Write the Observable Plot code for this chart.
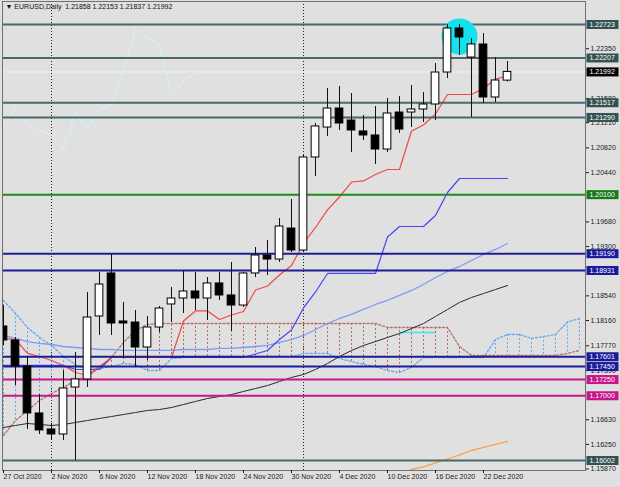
<!DOCTYPE html>
<html><head><meta charset="utf-8">
<script src="https://cdn.jsdelivr.net/npm/d3@7"></script>
<script src="https://cdn.jsdelivr.net/npm/@observablehq/plot@0.6"></script>
<style>html,body{margin:0;padding:0;background:#e0e0e0;}#chart{width:620px;height:487px;}</style>
</head><body><div id="chart"></div>
<script>
// ---------- data ----------
const symbol = "EURUSD,Daily";
const dates = ["2020-10-27","2020-10-28","2020-10-29","2020-10-30","2020-11-02","2020-11-03","2020-11-04","2020-11-05","2020-11-06","2020-11-09","2020-11-10","2020-11-11","2020-11-12","2020-11-13","2020-11-16","2020-11-17","2020-11-18","2020-11-19","2020-11-20","2020-11-23","2020-11-24","2020-11-25","2020-11-26","2020-11-27","2020-11-30","2020-12-01","2020-12-02","2020-12-03","2020-12-04","2020-12-07","2020-12-08","2020-12-09","2020-12-10","2020-12-11","2020-12-14","2020-12-15","2020-12-16","2020-12-17","2020-12-18","2020-12-21","2020-12-22","2020-12-23","2020-12-24"];
const open  = [1.18068,1.17852,1.17451,1.16727,1.16480,1.16403,1.17127,1.17251,1.18222,1.18885,1.18145,1.18129,1.17744,1.18052,1.18407,1.18499,1.18607,1.18499,1.18731,1.18546,1.18391,1.18885,1.19162,1.19100,1.19578,1.19239,1.20673,1.21135,1.21428,1.21243,1.21074,1.21012,1.20796,1.21366,1.21366,1.21413,1.21490,1.21983,1.22661,1.22214,1.22415,1.21598,1.21858];
const high  = [1.18391,1.17898,1.17590,1.17019,1.16572,1.17389,1.17667,1.18592,1.18900,1.19178,1.18438,1.18314,1.18222,1.18376,1.18669,1.18915,1.18900,1.18823,1.18900,1.19054,1.18900,1.19285,1.19393,1.19732,1.20025,1.20704,1.21197,1.21736,1.21767,1.21659,1.21320,1.21459,1.21582,1.21613,1.21783,1.21675,1.22122,1.22723,1.22723,1.22507,1.22584,1.22214,1.22153];
const low   = [1.17775,1.17158,1.16480,1.16403,1.16310,1.16310,1.16002,1.17127,1.17929,1.17929,1.17574,1.17436,1.17543,1.17975,1.18129,1.18268,1.18314,1.18160,1.18468,1.17991,1.18361,1.18823,1.18854,1.19054,1.19208,1.19208,1.20380,1.20997,1.21089,1.20750,1.20935,1.20565,1.20750,1.21043,1.21135,1.21212,1.21243,1.21891,1.22245,1.21290,1.21505,1.21521,1.21837];
const close = [1.17852,1.17451,1.16727,1.16465,1.16403,1.17112,1.17251,1.18206,1.18715,1.18114,1.18114,1.17744,1.18052,1.18345,1.18499,1.18607,1.18499,1.18731,1.18546,1.18391,1.18885,1.19162,1.19100,1.19609,1.19239,1.20673,1.21151,1.21428,1.21197,1.21089,1.21012,1.20796,1.21351,1.21104,1.21413,1.21490,1.21983,1.22661,1.22523,1.22415,1.21598,1.21860,1.21992];

const tenkan = [1.17883,1.17867,1.17652,1.17605,1.17544,1.17467,1.17359,1.17312,1.17451,1.17590,1.17590,1.17590,1.17590,1.17590,1.17590,1.18153,1.18307,1.18307,1.18176,1.18245,1.18299,1.18630,1.18692,1.18862,1.19008,1.19347,1.19594,1.19864,1.20064,1.20295,1.20311,1.20411,1.20488,1.20488,1.21081,1.21174,1.21343,1.21644,1.21644,1.21644,1.21736,1.21883,1.21929];
const kijun = [1.17467,1.17467,1.17467,1.17467,1.17467,1.17467,1.17405,1.17405,1.17405,1.17590,1.17590,1.17590,1.17590,1.17590,1.17590,1.17590,1.17590,1.17590,1.17590,1.17590,1.17590,1.17644,1.17698,1.17867,1.18014,1.18353,1.18600,1.18885,1.18885,1.18885,1.18885,1.18885,1.19447,1.19609,1.19609,1.19609,1.19779,1.20133,1.20349,1.20349,1.20349,1.20349,1.20349];
// Senkou spans run 6 bars past the last candle
const spanA = [1.18469,1.18268,1.18052,1.17898,1.17775,1.17605,1.17482,1.17405,1.17420,1.17451,1.17497,1.17482,1.17389,1.17389,1.17574,1.17590,1.17605,1.17605,1.17605,1.17605,1.17605,1.17605,1.17605,1.17605,1.17605,1.17652,1.17652,1.17652,1.17574,1.17528,1.17482,1.17451,1.17389,1.17359,1.17436,1.17590,1.17590,1.17590,1.17590,1.17590,1.17590,1.17867,1.17944,1.17944,1.17883,1.17913,1.17944,1.18137,1.18191];
const spanB = [1.16387,1.16619,1.16773,1.16927,1.17035,1.17127,1.17235,1.17312,1.17420,1.17590,1.17821,1.18006,1.18099,1.18114,1.18114,1.18114,1.18114,1.18114,1.18114,1.18114,1.18114,1.18114,1.18114,1.18114,1.18114,1.18114,1.18114,1.18114,1.18114,1.18114,1.18114,1.18114,1.18052,1.18052,1.18052,1.18052,1.18052,1.18052,1.17759,1.17621,1.17621,1.17621,1.17621,1.17621,1.17621,1.17621,1.17621,1.17652,1.17698];

const maBlue  = [1.17929,1.17883,1.17836,1.17806,1.17790,1.17759,1.17744,1.17729,1.17713,1.17713,1.17698,1.17698,1.17698,1.17698,1.17698,1.17713,1.17713,1.17713,1.17729,1.17729,1.17744,1.17759,1.17775,1.17821,1.17867,1.17929,1.18021,1.18114,1.18191,1.18253,1.18330,1.18407,1.18469,1.18546,1.18623,1.18715,1.18823,1.18916,1.18993,1.19085,1.19178,1.19255,1.19347];
const maBlack = [1.16511,1.16542,1.16572,1.16557,1.16542,1.16557,1.16588,1.16619,1.16650,1.16680,1.16711,1.16742,1.16773,1.16788,1.16819,1.16865,1.16912,1.16958,1.16989,1.17019,1.17066,1.17112,1.17158,1.17220,1.17282,1.17328,1.17405,1.17497,1.17605,1.17698,1.17775,1.17836,1.17898,1.17960,1.18037,1.18114,1.18222,1.18330,1.18438,1.18515,1.18576,1.18638,1.18700];
const maOrange = [null,null,null,null,null,null,null,null,null,null,null,null,null,null,null,null,null,null,null,null,null,null,null,null,null,null,null,null,null,null,null,null,null,1.15786,1.15863,1.15902,1.15964,1.16025,1.16087,1.16156,1.16203,1.16249,1.16295];

const levelPrices = [1.22723,1.22207,1.21517,1.21290,1.20100,1.19190,1.18931,1.17601,1.17450,1.17250,1.17000,1.16002];
const monthStarts = ["2020-11-02","2020-12-01"];
const cyanSegment = {from: "2020-12-11", to: "2020-12-16", price: 1.17975};
const highlight = {date: "2020-12-18", price: 1.22538};

const yTicks = [1.22350,1.21580,1.21210,1.20820,1.20440,1.19680,1.19300,1.18540,1.18160,1.17770,1.17390,1.16630,1.16250,1.15870];
const xTickDates = ["2020-10-27","2020-11-02","2020-11-06","2020-11-12","2020-11-18","2020-11-24","2020-11-30","2020-12-04","2020-12-10","2020-12-16","2020-12-22"];
const xTickLabels = ["27 Oct 2020","2 Nov 2020","6 Nov 2020","12 Nov 2020","18 Nov 2020","24 Nov 2020","30 Nov 2020","4 Dec 2020","10 Dec 2020","16 Dec 2020","22 Dec 2020"];

// ---------- styles ----------
const slate = "#47696a", navy = "#1d1d98", magenta = "#c8168a", green = "#1f8a1f";
const levelColors = [slate, slate, slate, slate, green, navy, navy, navy, navy, magenta, magenta, slate];
const boxColors   = ["#335353","#335353","#335353","#335353","#177a17","#1a1a9a","#1a1a9a","#1a1a9a","#1a1a9a","#c8168a","#c8168a","#335353"];

// ---------- derived tables ----------
const idx = d => dates.indexOf(d);
const bars = dates.map((d, i) => ({i, o: open[i], h: high[i], l: low[i], c: close[i]}));
const cloud = spanA.map((a, i) => ({i, a, b: spanB[i]}));
const series = (arr) => arr.map((v, i) => ({i, v}));
const last = bars.length - 1;
const chikou = close.slice(26).map((v, i) => ({i, v}));
const labelData = levelPrices.map((p, k) => ({p, fill: boxColors[k]})).concat([{p: close[last], fill: "#000000"}]);
const tickIdx = xTickDates.map(idx);
const tickText = new Map(tickIdx.map((t, k) => [t, xTickLabels[k]]));
const title = "\u25BC " + symbol + "  " + [open[last], high[last], low[last], close[last]].map(v => v.toFixed(5)).join(" ");

function withBoxes(index, scales, values, dimensions, context, next) {
  const g = next(index, scales, values, dimensions, context);
  const ns = "http://www.w3.org/2000/svg";
  const wrap = document.createElementNS(ns, "g");
  const x0 = dimensions.width - dimensions.marginRight;
  for (const i of index) {
    const r = document.createElementNS(ns, "rect");
    r.setAttribute("x", x0 + 1.5);
    r.setAttribute("y", values.y[i] - 4);
    r.setAttribute("width", 32);
    r.setAttribute("height", 9);
    r.setAttribute("fill", labelData[i].fill);
    wrap.appendChild(r);
  }
  wrap.appendChild(g);
  return wrap;
}

const chart = Plot.plot({
  width: 620, height: 487,
  marginLeft: 2, marginRight: 35, marginTop: 1, marginBottom: 17,
  x: {type: "linear", domain: [-1/12, 48.5], axis: null},
  y: {domain: [1.1584771, 1.2307756], axis: null},
  style: {background: "#e0e0e0", fontFamily: "'Liberation Sans', Arial, sans-serif", fontSize: "7px", color: "#1a1a1a"},
  marks: [
    Plot.ruleY([close[last]], {stroke: "#efefef", strokeWidth: 1}),
    Plot.ruleX(monthStarts.map(idx), {stroke: "#222", strokeDasharray: "1,2", strokeWidth: 1}),
    // Ichimoku cloud hatching
    Plot.ruleX(cloud, {x: "i", y1: "a", y2: "b", stroke: d => d.a > d.b ? "#63aaee" : "#b56e66", strokeDasharray: "2,2", strokeWidth: 1, clip: true}),
    Plot.line(series(spanA), {x: "i", y: "v", stroke: "#63aaee", strokeDasharray: "2,2", strokeWidth: 1.3, clip: true}),
    Plot.line(series(spanB), {x: "i", y: "v", stroke: "#b56e66", strokeDasharray: "2,2", strokeWidth: 1.3, clip: true}),
    Plot.ruleY([cyanSegment], {y: "price", x1: d => idx(d.from), x2: d => idx(d.to), stroke: "#3ee6ec", strokeWidth: 1.3}),
    // moving averages
    Plot.line(series(maBlack), {x: "i", y: "v", stroke: "#2a2a2a", strokeWidth: 1, clip: true}),
    Plot.line(series(maBlue), {x: "i", y: "v", stroke: "#7d9cf2", strokeWidth: 1.3, clip: true}),
    Plot.line(series(maOrange), {x: "i", y: "v", stroke: "#f5a24c", strokeWidth: 1.3, clip: true}),
    // kijun / tenkan / chikou
    Plot.line(series(kijun), {x: "i", y: "v", stroke: "#4646f2", strokeWidth: 1.2, clip: true}),
    Plot.line(series(tenkan), {x: "i", y: "v", stroke: "#f44646", strokeWidth: 1.2, clip: true}),
    Plot.line(chikou, {x: "i", y: "v", stroke: "#d6eeee", strokeWidth: 1.4, clip: true}),
    // horizontal levels
    Plot.ruleY(levelPrices, {stroke: (d, k) => levelColors[k], strokeWidth: 2}),
    // highlight circle
    Plot.dot([highlight], {x: d => idx(d.date), y: "price", r: 18, fill: "#14e0ee", stroke: null}),
    // candles
    Plot.ruleX(bars, {x: "i", y1: "l", y2: "h", stroke: "#111", strokeWidth: 1, clip: true}),
    Plot.rect(bars, {x1: d => d.i - 0.32, x2: d => d.i + 0.32, y1: "o", y2: "c", fill: d => d.c >= d.o ? "#ffffff" : "#000000", stroke: "#000", strokeWidth: 1, clip: true}),
    Plot.frame({stroke: "#707070"}),
    Plot.axisY({anchor: "right", ticks: yTicks, tickFormat: d => d.toFixed(5), tickSize: 3, tickPadding: 2, fontSize: 7, label: null}),
    Plot.axisX({anchor: "bottom", ticks: tickIdx, tickFormat: d => tickText.get(d), textAnchor: "start", tickSize: 3, tickPadding: 1, fontSize: 7, label: null}),
    Plot.text(labelData, {y: "p", text: d => d.p.toFixed(5), frameAnchor: "right", textAnchor: "start", dx: 4, fill: "#ffffff", fontSize: 7, render: withBoxes}),
    Plot.text([title], {frameAnchor: "top-left", textAnchor: "start", lineAnchor: "top", dx: 3, dy: 3, fill: "#111", fontSize: 7})
  ]
});
document.getElementById("chart").appendChild(chart);
</script></body></html>
